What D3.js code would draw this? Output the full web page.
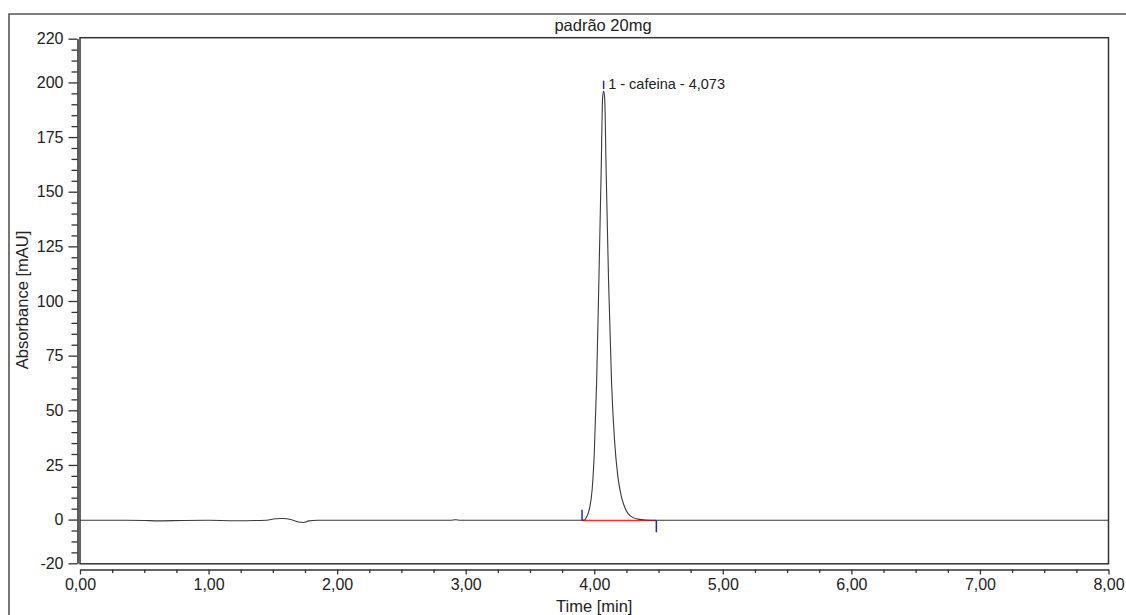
<!DOCTYPE html>
<html>
<head>
<meta charset="utf-8">
<script src="https://cdn.jsdelivr.net/npm/d3@7"></script>
<style>
    body { margin: 0; background: #fff; }
    svg text { font-family: "Liberation Sans", Arial, sans-serif; fill: #222; }
</style>
</head>
<body>
<div id="chart"></div>
<script>
// ===== chromatogram data =====
const title = "padrão 20mg";
const timeMin = [
    0.00, 0.30, 0.50, 0.60, 0.80, 1.00, 1.20, 1.45, 1.52, 1.58, 1.64, 1.70, 1.74, 1.78, 1.85,
    2.50, 2.88, 2.92, 2.96, 3.88, 3.923, 3.943, 3.963, 3.984, 4.000, 4.018, 4.037, 4.054,
    4.065, 4.073, 4.081, 4.093, 4.111, 4.135, 4.158, 4.183, 4.213, 4.245, 4.285, 4.34, 4.40,
    4.48, 5.50, 7.00, 8.00
];
const absorbance = [
    -0.3, -0.3, -0.4, -0.6, -0.4, -0.3, -0.5, -0.3, 0.4, 0.5, 0.0, -1.1, -1.3, -0.6, -0.3,
    -0.3, -0.3, -0.1, -0.3, -0.3, -0.2, 1.5, 5, 14, 30, 62, 112, 160,
    193, 196, 193, 158, 110, 62, 36, 20, 10, 4.5, 1.5, 0.2, -0.2,
    -0.3, -0.3, -0.3, -0.3
];
const peakName = "1 - cafeina - 4,073";
const peakTime = 4.073;
const integStart = 3.905;
const integEnd = 4.483;
const integLevel = -0.4;

const xMajor = [0, 1, 2, 3, 4, 5, 6, 7, 8];
const yMajor = [220, 200, 175, 150, 125, 100, 75, 50, 25, 0, -20];

const width = 1126, height = 615;

const svg = d3.select("#chart").append("svg")
    .attr("width", width)
    .attr("height", height);

const x = d3.scaleLinear().domain([0, 8]).range([80, 1108.5]);
const y = d3.scaleLinear().domain([-20, 220]).range([563.3, 38.7]);

// outer frame (page border)
svg.append("path")
    .attr("d", `M9,${height}V14H${width}`)
    .attr("fill", "none")
    .attr("stroke", "#555")
    .attr("stroke-width", 1.6);

// title
svg.append("text")
    .attr("x", 603)
    .attr("y", 31)
    .attr("text-anchor", "middle")
    .style("font-size", "16.5px")
    .text(title);

// plot frame
svg.append("rect")
    .attr("x", x(0))
    .attr("y", y(220) - 1)
    .attr("width", x(8) - x(0))
    .attr("height", y(-20) - y(220) + 1.5)
    .attr("fill", "none")
    .attr("stroke", "#333")
    .attr("stroke-width", 1.5);

// ===== axes =====
const fmtX = d => d3.format(".2f")(d).replace(".", ",");

const xAxisG = svg.append("g")
    .attr("transform", "translate(0,569.5)")
    .call(d3.axisBottom(x).tickValues(xMajor).tickSize(5).tickSizeOuter(0)
        .tickPadding(4).tickFormat(fmtX));
svg.append("g")
    .attr("transform", "translate(0,569.5)")
    .call(d3.axisBottom(x).tickValues(d3.range(0, 8, 0.25).filter(v => v % 1 !== 0))
        .tickSize(3.5).tickFormat(""))
    .call(g => g.select(".domain").remove());

const yAxisG = svg.append("g")
    .attr("transform", "translate(77.5,0)")
    .call(d3.axisLeft(y).tickValues(yMajor).tickSize(9).tickSizeOuter(0)
        .tickPadding(5).tickFormat(d => String(d)));
svg.append("g")
    .attr("transform", "translate(77.5,0)")
    .call(d3.axisLeft(y).tickValues(d3.range(-20, 221, 5).filter(v => !yMajor.includes(v)))
        .tickSize(6).tickFormat(""))
    .call(g => g.select(".domain").remove());

svg.selectAll(".tick line").attr("stroke", "#333").attr("stroke-width", 1.3);
svg.selectAll(".domain").attr("stroke", "#333").attr("stroke-width", 1.6);
xAxisG.selectAll("text").style("font-size", "16px").attr("fill", "#222");
yAxisG.selectAll("text").style("font-size", "16px").attr("fill", "#222");

// axis titles
svg.append("text")
    .attr("x", x(4))
    .attr("y", 612)
    .attr("text-anchor", "middle")
    .style("font-size", "16.5px")
    .text("Time [min]");

svg.append("text")
    .attr("transform", "translate(27.5,300) rotate(-90)")
    .attr("text-anchor", "middle")
    .style("font-size", "16.5px")
    .text("Absorbance [mAU]");

// ===== integration baseline and markers =====
svg.append("line")
    .attr("x1", x(integStart)).attr("x2", x(integEnd))
    .attr("y1", y(integLevel)).attr("y2", y(integLevel))
    .attr("stroke", "#ff2a2a")
    .attr("stroke-width", 1.5);

// ===== trace =====
const points = timeMin.map((t, k) => [t, absorbance[k]]);
const line = d3.line()
    .x(d => x(d[0]))
    .y(d => y(d[1]))
    .curve(d3.curveMonotoneX);

svg.append("path")
    .datum(points)
    .attr("d", line)
    .attr("fill", "none")
    .attr("stroke", "#3a3a3a")
    .attr("stroke-width", 1.1);

const blue = "#1f1fff";
svg.append("line")
    .attr("x1", x(integStart)).attr("x2", x(integStart))
    .attr("y1", y(integLevel)).attr("y2", y(4.5))
    .attr("stroke", blue).attr("stroke-width", 1.5);
svg.append("line")
    .attr("x1", x(integEnd)).attr("x2", x(integEnd))
    .attr("y1", y(integLevel)).attr("y2", y(-5.8))
    .attr("stroke", blue).attr("stroke-width", 1.5);
svg.append("line")
    .attr("x1", x(peakTime)).attr("x2", x(peakTime))
    .attr("y1", y(197)).attr("y2", y(200.8))
    .attr("stroke", blue).attr("stroke-width", 1.5);

svg.append("text")
    .attr("x", x(peakTime) + 4.5)
    .attr("y", 88.5)
    .style("font-size", "14.5px")
    .text(peakName);
</script>
</body>
</html>
